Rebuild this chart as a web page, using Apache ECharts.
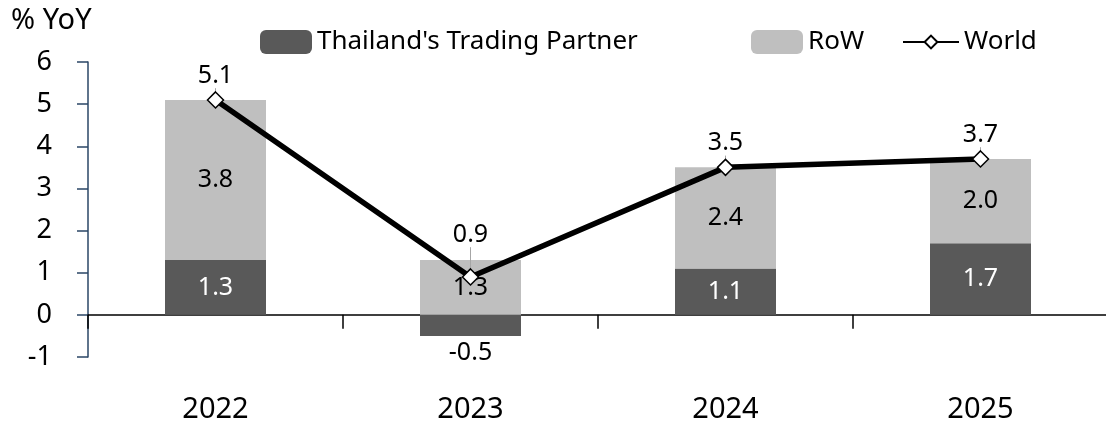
<!DOCTYPE html>
<html>
<head>
<meta charset="utf-8">
<script src="https://cdn.jsdelivr.net/npm/echarts@6/dist/echarts.min.js"></script>
<style>
html, body { margin: 0; padding: 0; background: #fff; }
#chart { width: 1106px; height: 429px; }
</style>
</head>
<body>
<div id="chart"></div>
<script>
const years = ['2022', '2023', '2024', '2025'];
const partner = [1.3, -0.5, 1.1, 1.7];
const rest = [3.8, 1.3, 2.4, 2.0];
const world = [5.1, 0.9, 3.5, 3.7];

const font = 'Noto Sans';
const chart = echarts.init(document.getElementById('chart'));

var option = {
	animation: false,
	textStyle: { fontFamily: font, color: '#000' },
	grid: { left: 88, right: -2, top: 62, bottom: 72, outerBoundsMode: 'none', containLabel: false },
	graphic: [{
		type: 'text',
		left: 11,
		top: 6,
		style: { text: '% YoY', font: '29px "Noto Sans"', fill: '#000' }
	}],
	legend: [{
		left: 255, top: 24,
		itemWidth: 52, itemHeight: 24, itemGap: 4,
		textStyle: { fontSize: 26, color: '#000', fontFamily: font },
		data: ["Thailand's Trading Partner"]
	}, {
		left: 746, top: 24,
		itemWidth: 52, itemHeight: 24,
		textStyle: { fontSize: 26, color: '#000', fontFamily: font },
		data: ['RoW']
	}, {
		left: 897, top: 24,
		itemWidth: 56, itemHeight: 16,
		textStyle: { fontSize: 26, color: '#000', fontFamily: font },
		data: ['World']
	}],
	xAxis: {
		type: 'category',
		data: years,
		axisLine: { onZero: true, lineStyle: { color: '#000', width: 1.5 } },
		axisTick: { show: true, interval: 0, length: 14, lineStyle: { color: '#000', width: 1.5 } },
		axisLabel: { margin: 38, fontSize: 29, color: '#000', fontFamily: font }
	},
	yAxis: {
		type: 'value',
		min: -1, max: 6, interval: 1,
		splitLine: { show: false },
		axisLine: { show: true, lineStyle: { color: '#2a4666', width: 1.5 } },
		axisTick: { show: true, length: 11, lineStyle: { color: '#2a4666', width: 1.5 } },
		axisLabel: { margin: 36, fontSize: 27, color: '#000', fontFamily: font }
	},
	series: [{
		name: "Thailand's Trading Partner",
		type: 'bar',
		stack: 'a',
		barWidth: 101,
		itemStyle: { color: '#595959' },
		label: {
			show: true, position: 'inside', color: '#fff', fontSize: 25, fontFamily: font
		},
		data: partner.map(function (v) {
			if (v < 0) {
				return { value: v, label: { position: 'bottom', color: '#000', distance: 4 } };
			}
			return v;
		})
	}, {
		name: 'RoW',
		type: 'bar',
		stack: 'a',
		barWidth: 101,
		itemStyle: { color: '#bfbfbf' },
		label: {
			show: true, position: 'inside', color: '#000', fontSize: 25, fontFamily: font,
			formatter: function (p) { return p.value.toFixed(1); }
		},
		data: rest
	}, {
		name: 'World',
		type: 'line',
		z: 5,
		data: world,
		symbol: 'diamond',
		symbolSize: 16,
		lineStyle: { color: '#000', width: 5.5 },
		itemStyle: { color: '#fff', borderColor: '#000', borderWidth: 1.5 },
		label: {
			show: true, position: 'top', distance: 3, color: '#000', fontSize: 25, fontFamily: font,
			formatter: function (p) { return p.value.toFixed(1); }
		},
		labelLine: { show: true, lineStyle: { color: '#a6a6a6', width: 1 } },
		labelLayout: function (p) {
			if (p.dataIndex === 1) {
				return { dy: -18 };
			}
		}
	}]
};
chart.setOption(option);
</script>
</body>
</html>
